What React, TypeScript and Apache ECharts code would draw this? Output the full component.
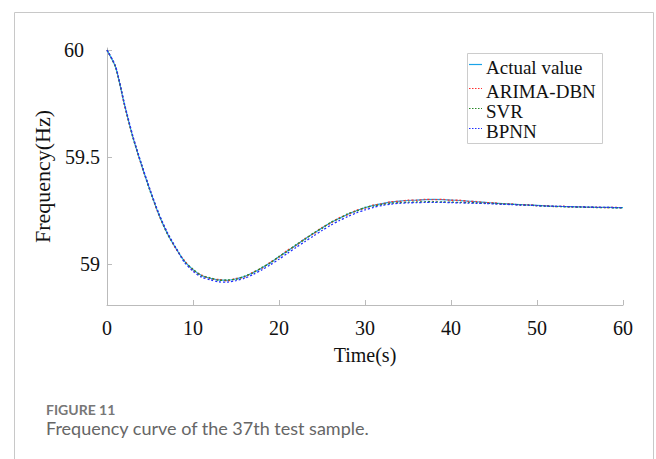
import React, { useEffect, useRef } from "react";
import * as echarts from "echarts";

const timeSec: number[] = Array.from({ length: 61 }, (_, i) => i);

const actualValue: number[] = [
  60.0, 59.92, 59.75, 59.595, 59.465, 59.345, 59.235, 59.145, 59.075, 59.015,
  58.975, 58.948, 58.935, 58.927, 58.925, 58.932, 58.943, 58.962, 58.983, 59.008,
  59.035, 59.063, 59.09, 59.118, 59.144, 59.17, 59.194, 59.215, 59.234, 59.25,
  59.264, 59.275, 59.283, 59.29, 59.295, 59.298, 59.3, 59.302, 59.303, 59.302,
  59.3, 59.298, 59.295, 59.292, 59.289, 59.286, 59.283, 59.281, 59.279, 59.277,
  59.275, 59.273, 59.271, 59.27, 59.269, 59.268, 59.267, 59.266, 59.266, 59.265,
  59.265,
];
const arimaDbn: number[] = [
  60.0, 59.922, 59.748, 59.597, 59.463, 59.347, 59.233, 59.147, 59.073, 59.018,
  58.972, 58.95, 58.933, 58.929, 58.923, 58.934, 58.941, 58.964, 58.981, 59.01,
  59.033, 59.066, 59.088, 59.12, 59.142, 59.172, 59.192, 59.217, 59.232, 59.252,
  59.262, 59.277, 59.282, 59.292, 59.294, 59.3, 59.299, 59.303, 59.302, 59.303,
  59.299, 59.299, 59.294, 59.293, 59.288, 59.287, 59.282, 59.282, 59.278, 59.278,
  59.274, 59.274, 59.27, 59.271, 59.268, 59.269, 59.266, 59.267, 59.265, 59.266,
  59.264,
];
const svr: number[] = [
  60.0, 59.92, 59.752, 59.593, 59.467, 59.343, 59.237, 59.143, 59.077, 59.013,
  58.977, 58.946, 58.937, 58.925, 58.927, 58.93, 58.945, 58.96, 58.985, 59.006,
  59.037, 59.061, 59.092, 59.116, 59.146, 59.168, 59.196, 59.213, 59.236, 59.248,
  59.266, 59.272, 59.28, 59.285, 59.288, 59.29, 59.291, 59.292, 59.292, 59.291,
  59.29, 59.289, 59.288, 59.287, 59.285, 59.284, 59.282, 59.28, 59.278, 59.276,
  59.274, 59.272, 59.27, 59.269, 59.268, 59.267, 59.266, 59.265, 59.265, 59.264,
  59.264,
];
const bpnn: number[] = [
  60.0, 59.925, 59.755, 59.6, 59.47, 59.35, 59.24, 59.15, 59.078, 59.01,
  58.968, 58.94, 58.928, 58.918, 58.917, 58.924, 58.935, 58.953, 58.974, 58.998,
  59.024, 59.052, 59.079, 59.106, 59.132, 59.158, 59.182, 59.204, 59.223, 59.24,
  59.254, 59.266, 59.275, 59.281, 59.285, 59.287, 59.288, 59.289, 59.289, 59.289,
  59.288, 59.287, 59.286, 59.285, 59.284, 59.282, 59.28, 59.279, 59.277, 59.276,
  59.274, 59.272, 59.271, 59.27, 59.269, 59.268, 59.267, 59.266, 59.266, 59.265,
  59.265,
];

const yTicks: number[] = [59, 59.5, 60];
const seriesNames: string[] = ["Actual value", "ARIMA-DBN", "SVR", "BPNN"];
const seriesColors: string[] = ["#1aa3e8", "#ff3030", "#2a8a2a", "#2030ff"];
const seriesDash: any[] = ["solid", [2, 2], [2, 2], [2, 2]];

const serif = "'Liberation Serif', 'Times New Roman', serif";
const sans = "Lato, 'Open Sans', sans-serif";

export default function App() {
  const ref = useRef<HTMLDivElement>(null);
  useEffect(() => {
    if (!ref.current) return;
    const chart = echarts.init(ref.current, null, { renderer: "svg" });
    const values = [actualValue, arimaDbn, svr, bpnn];
    const series = seriesNames.map((name, k) => ({
      name,
      type: "line",
      data: timeSec.map((t, i) => [t, values[k][i]]),
      showSymbol: false,
      symbol: "none",
      smooth: 0.25,
      lineStyle: { color: seriesColors[k], width: k === 0 ? 1.2 : 1.3, type: seriesDash[k] },
      itemStyle: { color: seriesColors[k] },
      z: k === 0 ? 1 : 2,
    }));
    const legendRows = [64, 88, 108, 128];
    const legendGraphics: any[] = [
      {
        type: "rect",
        shape: { x: 467.5, y: 53.5, width: 135, height: 90 },
        style: { fill: "#fff", stroke: "#cccccc", lineWidth: 1 },
        z: 10,
      },
    ];
    seriesNames.forEach((name, k) => {
      legendGraphics.push({
        type: "line",
        shape: { x1: 469, y1: legendRows[k] + 0.5, x2: 482, y2: legendRows[k] + 0.5 },
        style: {
          stroke: seriesColors[k],
          lineWidth: 1.2,
          lineDash: k === 0 ? null : [1.5, 1.5],
        },
        z: 11,
      });
      legendGraphics.push({
        type: "text",
        x: 486,
        y: legendRows[k] + 3,
        style: {
          text: name,
          fontFamily: serif,
          fontSize: 19,
          fill: "#111",
          textVerticalAlign: "middle",
          verticalAlign: "middle",
        },
        z: 11,
      });
    });
    chart.setOption({
      animation: false,
      backgroundColor: "#ffffff",
      grid: { left: 107, right: 33, top: 48, bottom: 154 },
      xAxis: {
        type: "value",
        min: 0,
        max: 60,
        interval: 10,
        name: "Time(s)",
        nameLocation: "middle",
        nameGap: 40,
        nameTextStyle: { fontFamily: serif, fontSize: 20, color: "#111" },
        axisLine: { lineStyle: { color: "#bbbbbb" } },
        axisTick: { inside: true, length: 5, lineStyle: { color: "#bbbbbb" } },
        axisLabel: { fontFamily: serif, fontSize: 20, color: "#111", margin: 13 },
        splitLine: { show: false },
      },
      yAxis: {
        type: "value",
        min: 58.81,
        max: 60.01,
        name: "Frequency(Hz)",
        nameLocation: "middle",
        nameGap: 50,
        nameTextStyle: { fontFamily: serif, fontSize: 22, color: "#111" },
        axisLine: { show: true, lineStyle: { color: "#bbbbbb" } },
        axisTick: { inside: true, length: 5, customValues: yTicks, lineStyle: { color: "#bbbbbb" } },
        axisLabel: {
          fontFamily: serif,
          fontSize: 20,
          color: "#111",
          margin: 7,
          customValues: yTicks,
          formatter: (v: number) => (v === 60 ? "{top|60}" : String(v)),
          rich: { top: { fontFamily: serif, fontSize: 20, color: "#111", padding: [0, 16, 0, 0] } },
        },
        splitLine: { show: false },
      },
      graphic: [
        {
          type: "polyline",
          shape: { points: [[14.5, 459], [14.5, 12.5], [653.5, 12.5], [653.5, 459]] },
          style: { stroke: "#c8c8c8", lineWidth: 1, fill: "none" },
          silent: true,
        },
        ...legendGraphics,
        {
          type: "text",
          left: 46,
          top: 402,
          style: { text: "FIGURE 11", fontFamily: sans, fontWeight: "bold", fontSize: 14, fill: "#777" },
        },
        {
          type: "text",
          left: 46,
          top: 419,
          style: { text: "Frequency curve of the 37th test sample.", fontFamily: sans, fontSize: 18, fill: "#666" },
        },
      ],
      series,
    });
    return () => chart.dispose();
  }, []);
  return (
    <div
      ref={ref}
      style={{ position: "absolute", left: 0, top: 0, width: 656, height: 459 }}
    />
  );
}
